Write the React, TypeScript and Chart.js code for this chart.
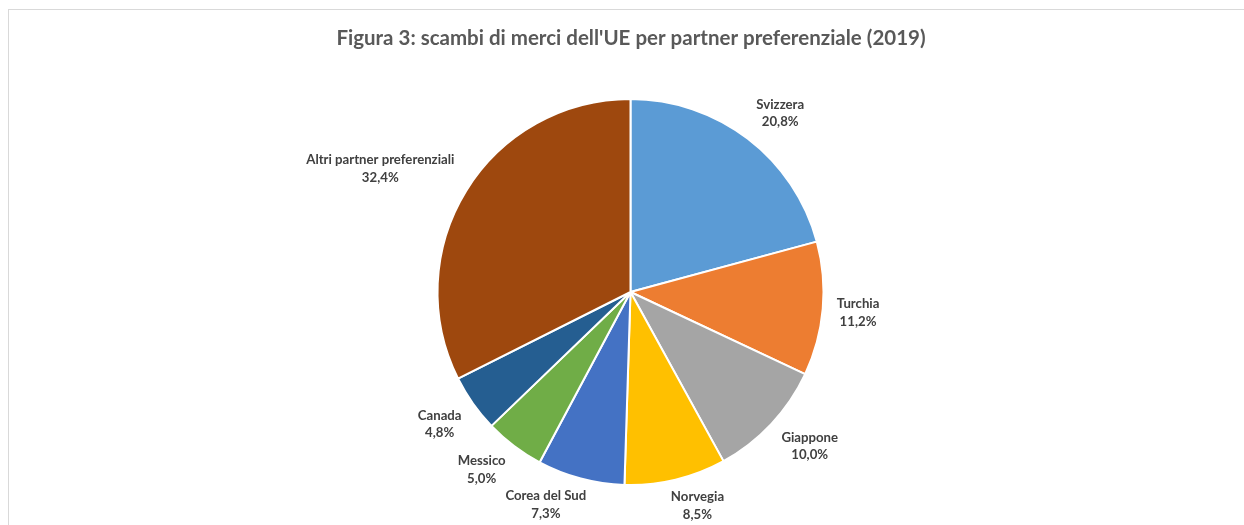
import React, { useEffect, useRef } from "react";
import { Chart, registerables } from "chart.js";

Chart.register(...registerables);

const categories = [
  "Svizzera",
  "Turchia",
  "Giappone",
  "Norvegia",
  "Corea del Sud",
  "Messico",
  "Canada",
  "Altri partner preferenziali",
];
const shares = [20.8, 11.2, 10.0, 8.5, 7.3, 5.0, 4.8, 32.4];
const percentLabels = ["20,8%", "11,2%", "10,0%", "8,5%", "7,3%", "5,0%", "4,8%", "32,4%"];
const colors = ["#5B9BD5", "#ED7D31", "#A5A5A5", "#FFC000", "#4472C4", "#70AD47", "#255E91", "#9E480E"];
const titleText = "Figura 3: scambi di merci dell'UE per partner preferenziale (2019)";

const W = 1235;
const H = 515;

const labelPlugin = {
  id: "outsideLabels",
  afterDatasetsDraw(chart: any) {
    const ctx = chart.ctx;
    const meta = chart.getDatasetMeta(0);
    ctx.save();
    ctx.font = "bold 13.2px Lato, 'Open Sans', sans-serif";
    ctx.fillStyle = "#404040";
    ctx.textAlign = "center";
    ctx.textBaseline = "middle";
    const lineH = 17.5;
    const boxH = 27;
    meta.data.forEach((arc: any, i: number) => {
      const p = arc.getProps(["x", "y", "startAngle", "endAngle", "outerRadius"], true);
      const mid = (p.startAngle + p.endAngle) / 2;
      const ux = Math.cos(mid);
      const uy = Math.sin(mid);
      const d = p.outerRadius + 14;
      const px = p.x + d * ux;
      const py = p.y + d * uy;
      const l1 = categories[i];
      const l2 = percentLabels[i];
      const w = Math.max(ctx.measureText(l1).width, ctx.measureText(l2).width);
      const cl = (v: number) => Math.max(-1, Math.min(1, v));
      const cx = px + cl(ux * 3) * (w / 2);
      const cy = py + cl(uy * 3) * (boxH / 2) - 1;
      ctx.fillText(l1, cx, cy - lineH / 2);
      ctx.fillText(l2, cx, cy + lineH / 2);
    });
    ctx.restore();
  },
  afterDraw(chart: any) {
    const ctx = chart.ctx;
    ctx.save();
    ctx.font = "bold 20.5px Lato, 'Open Sans', sans-serif";
    ctx.fillStyle = "#595959";
    ctx.textAlign = "center";
    ctx.textBaseline = "middle";
    ctx.fillText(titleText, 622, 28);
    ctx.restore();
  },
};

export default function App() {
  const ref = useRef<HTMLCanvasElement>(null);
  useEffect(() => {
    if (!ref.current) return;
    const chart = new Chart(ref.current, {
      type: "pie",
      data: {
        labels: categories,
        datasets: [
          {
            data: shares,
            backgroundColor: colors,
            borderColor: "#ffffff",
            borderWidth: 2,
          },
        ],
      },
      options: {
        responsive: false,
        animation: false,
        layout: { padding: { left: 427, right: 419, top: 88, bottom: 39 } },
        plugins: {
          legend: { display: false },
          title: { display: false },
          tooltip: { enabled: false },
        },
      },
      plugins: [labelPlugin],
    });
    return () => chart.destroy();
  }, []);
  return (
    <div
      style={{
        position: "fixed",
        left: 8,
        top: 9,
        right: 0,
        bottom: 0,
        borderTop: "1px solid #d9d9d9",
        borderLeft: "1px solid #d9d9d9",
        background: "#fff",
        overflow: "hidden",
      }}
    >
      <canvas ref={ref} width={W} height={H} style={{ display: "block" }} />
    </div>
  );
}
